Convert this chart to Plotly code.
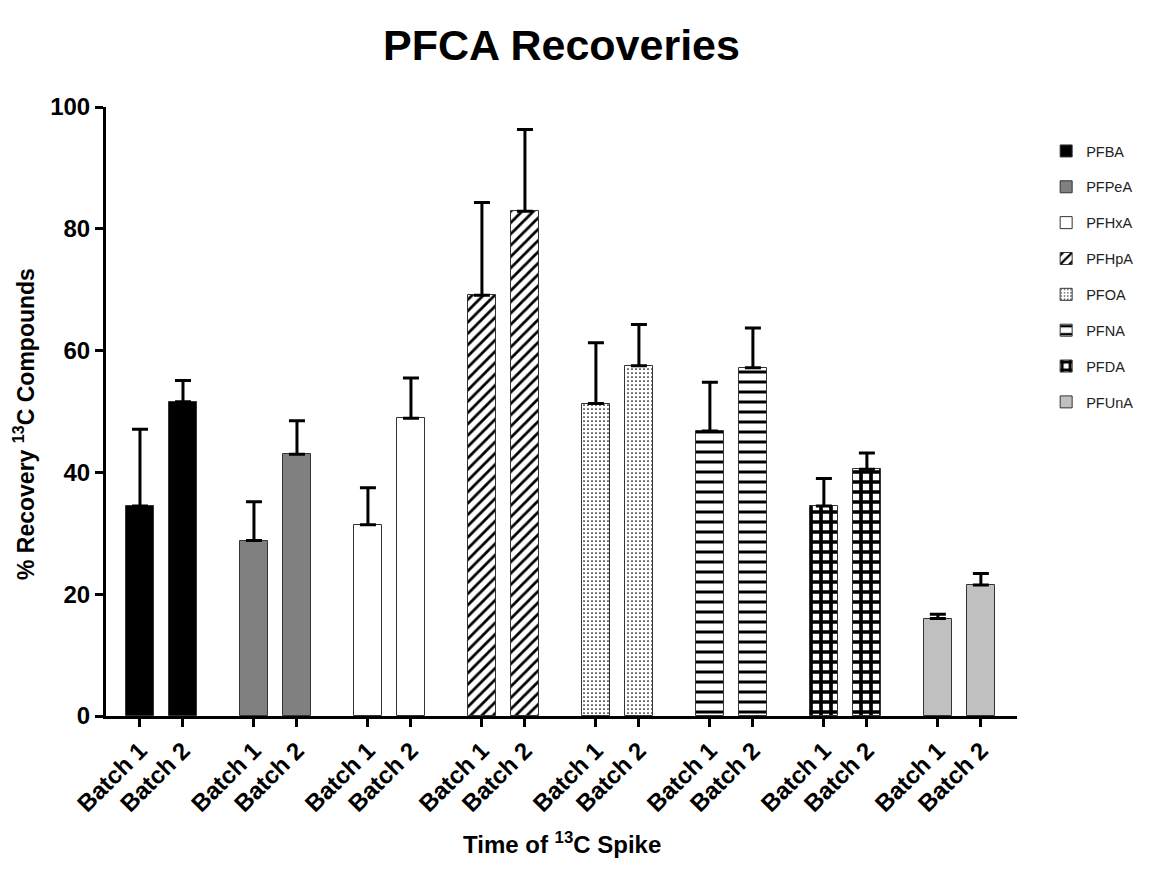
import plotly.graph_objects as go

compounds = ["PFBA", "PFPeA", "PFHxA", "PFHpA", "PFOA", "PFNA", "PFDA", "PFUnA"]
batches = ["Batch 1", "Batch 2"]
batch1_mean = [34.5, 28.8, 31.4, 69.1, 51.3, 46.8, 34.5, 16.0]
batch2_mean = [51.6, 43.0, 48.9, 82.9, 57.5, 57.2, 40.5, 21.5]
batch1_err_top = [47.1, 35.2, 37.5, 84.3, 61.3, 54.8, 39.0, 16.7]
batch2_err_top = [55.1, 48.5, 55.5, 96.3, 64.3, 63.7, 43.2, 23.4]

fills = [
    dict(color="#000000"),
    dict(color="#808080"),
    dict(color="#ffffff"),
    dict(color="#ffffff", pattern=dict(shape="/", fgcolor="#000000", bgcolor="#ffffff", size=8, solidity=0.35, fillmode="replace")),
    dict(color="#ffffff", pattern=dict(shape=".", fgcolor="#000000", bgcolor="#ffffff", size=4, solidity=0.15, fillmode="replace")),
    dict(color="#ffffff", pattern=dict(shape="-", fgcolor="#000000", bgcolor="#ffffff", size=10, solidity=0.3, fillmode="replace")),
    dict(color="#ffffff", pattern=dict(shape="+", fgcolor="#000000", bgcolor="#ffffff", size=10, solidity=0.6, fillmode="replace")),
    dict(color="#c0c0c0"),
]

# page body adds an 8px offset; margins are in figure coordinates
W, H = 1157, 871
L, R, T, B = 98, 148, 99, 163
PW, PH = W - L - R, H - T - B
group_gap = 2.65
fig = go.Figure()
tickvals, ticktext = [], []
for i, name in enumerate(compounds):
    xs = [i * group_gap, i * group_gap + 1]
    tickvals += xs
    ticktext += batches
    means = [batch1_mean[i], batch2_mean[i]]
    tops = [batch1_err_top[i], batch2_err_top[i]]
    errs = [t - m for t, m in zip(tops, means)]
    f = fills[i]
    marker = dict(color=f["color"], line=dict(color="#333333", width=1))
    if "pattern" in f:
        marker["pattern"] = f["pattern"]
    fig.add_trace(go.Bar(
        x=xs, y=means, name=name, width=0.65, marker=marker,
        legendgroup=name,
        error_y=dict(type="data", symmetric=False, array=errs, arrayminus=[0, 0],
                     color="#000000", thickness=3, width=8),
    ))

fig.update_layout(
    width=W, height=H,
    paper_bgcolor="white", plot_bgcolor="white",
    margin=dict(l=L, r=R, t=T, b=B, autoexpand=False),
    title=dict(text="<b>PFCA Recoveries</b>", x=(L + PW / 2) / W, xanchor="center",
               y=1 - 37 / H, yanchor="middle",
               font=dict(family="Liberation Sans, Arial", size=43, color="black")),
    font=dict(family="Liberation Sans, Arial", color="black"),
    showlegend=True,
    legend=dict(x=1.032, y=0.954, xanchor="left", yanchor="top",
                traceorder="grouped", tracegroupgap=14,
                font=dict(size=14.5, color="#222222"), bgcolor="rgba(0,0,0,0)"),
    bargap=0,
    annotations=[
        dict(text="<b>Time of <sup>13</sup>C Spike</b>", xref="paper", yref="paper",
             x=0.5, y=(H - B - 835) / PH, xanchor="center", yanchor="middle",
             showarrow=False, font=dict(size=24, color="black")),
        dict(text="<b>% Recovery <sup>13</sup>C Compounds</b>", xref="paper", yref="paper",
             x=(16 - L) / PW, y=(H - B - 416) / PH, xanchor="center", yanchor="middle",
             textangle=-90, showarrow=False, font=dict(size=23, color="black")),
    ],
)
fig.update_xaxes(
    range=[-0.79, 7 * group_gap + 1 + 0.84],
    tickmode="array", tickvals=tickvals, ticktext=["<b>%s</b>" % t for t in ticktext],
    tickangle=-45, tickfont=dict(size=24, color="black"),
    ticks="outside", ticklen=8, tickwidth=3, tickcolor="black",
    showline=True, linecolor="black", linewidth=3, showgrid=False, zeroline=False,
)
fig.update_yaxes(
    range=[0, 100], tickvals=[0, 20, 40, 60, 80, 100],
    ticktext=["<b>%d</b>" % v for v in [0, 20, 40, 60, 80, 100]],
    tickfont=dict(size=24, color="black"),
    ticks="outside", ticklen=8, tickwidth=3, tickcolor="black",
    showline=True, linecolor="black", linewidth=3, showgrid=False, zeroline=False,
)

fig.write_html("out.html")
